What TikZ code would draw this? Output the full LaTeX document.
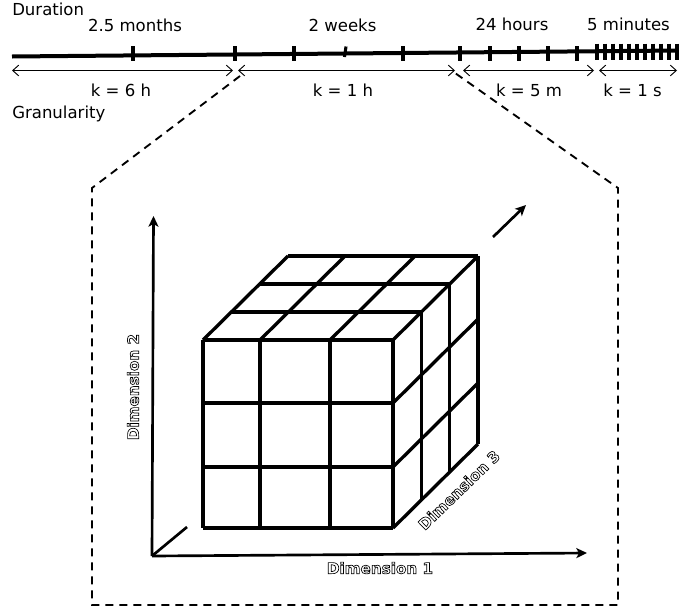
\documentclass[tikz,border=0pt]{standalone}
\usepackage{fontspec}
\setmainfont{DejaVu Sans}
\usetikzlibrary{arrows.meta}

\tikzset{
  lbl/.style={inner sep=0pt, anchor=base, font=\fontsize{12.4}{14}\selectfont},
  axlbl/.style={inner sep=0pt, anchor=center, font=\fontsize{11.4}{14}\selectfont\bfseries},
  timeline/.style={line width=3pt},
  tick/.style={line width=2.3pt},
  span/.style={line width=0.7pt, {Straight Barb[length=4.5pt,width=8pt,line width=0.7pt]}-{Straight Barb[length=4.5pt,width=8pt,line width=0.7pt]}},
  zoomframe/.style={line width=1.4pt, dash pattern=on 6pt off 4.5pt},
  grid/.style={line width=2.5pt},
  axis/.style={line width=2pt},
  axarrow/.style={axis, -{Stealth[length=8pt,width=7.5pt,inset=2pt]}},
}

% hollow (stroked only) lettering for the axis names
\newcommand{\outlined}[1]{\special{pdf:literal direct 1 Tr 0.5 w}#1\special{pdf:literal direct 0 Tr}}

\begin{document}
\begin{tikzpicture}[x=0.75pt,y=-0.75pt]
\useasboundingbox (0,0) rectangle (688,611);

% ---- time line with its ticks ----
\coordinate (tl0) at (12,56.5);
\coordinate (tl1) at (678,50.5);
\draw[timeline] (tl0) -- (tl1);
\foreach \x in {133,235,294,403,460,490,519,548,577}
  \draw[tick] (\x,46) -- (\x,61);
\draw[tick] (346,46.5) -- (344.5,57);
\foreach \i in {0,...,10}
  \draw[tick] ({597+8*\i},43.5) -- ({597+8*\i},60);

% ---- duration labels ----
\node[lbl, anchor=base west] (dur) at (12,15) {Duration};
\node[lbl] (d1) at (135,31.5) {2.5 months};
\node[lbl] (d2) at (342.5,31.5) {2 weeks};
\node[lbl] (d3) at (512,30) {24 hours};
\node[lbl] (d4) at (628.5,30) {5 minutes};

% ---- granularity spans ----
\coordinate (s0a) at (12,70.5);   \coordinate (s0b) at (233,70.5);
\coordinate (s1a) at (238,70.5);  \coordinate (s1b) at (455,70.5);
\coordinate (s2a) at (463,70.5);  \coordinate (s2b) at (594,70.5);
\coordinate (s3a) at (599,70.5);  \coordinate (s3b) at (677,70.5);
\draw[span] (s0a) -- (s0b);
\draw[span] (s1a) -- (s1b);
\draw[span] (s2a) -- (s2b);
\draw[span] (s3a) -- (s3b);

\node[lbl] (g1) at (121,96.5) {k = 6 h};
\node[lbl] (g2) at (343,96.5) {k = 1 h};
\node[lbl] (g3) at (529,96.5) {k = 5 m};
\node[lbl] (g4) at (632.5,96.5) {k = 1 s};
\node[lbl, anchor=base west] (gran) at (12,118) {Granularity};

% ---- dashed zoom frame ----
\coordinate (f0) at (240,76);
\coordinate (f1) at (92,188);
\coordinate (f2) at (92,605);
\coordinate (f3) at (618,605);
\coordinate (f4) at (618,188);
\coordinate (f5) at (455,73);
\draw[zoomframe] (f0) -- (f1) -- (f2) -- (f3) -- (f4) -- (f5);

% ---- axes ----
\coordinate (O) at (152,556);
\coordinate (ax1) at (587,553);
\coordinate (ax2) at (153.5,216);
\coordinate (ax3) at (187,527);
\draw[axarrow] (O) -- (ax1);
\draw[axarrow] (O) -- (ax2);
\draw[axis] (O) -- (ax3);
\coordinate (dirA) at (493,237);
\coordinate (dirB) at (526,205);
\draw[axarrow] (dirA) -- (dirB);

\node[axlbl] (dim1) at (380,568) {\outlined{Dimension 1}};
\node[axlbl, rotate=90] (dim2) at (133,387) {\outlined{Dimension 2}};
\node[axlbl, rotate=44] (dim3) at (459,490) {\outlined{Dimension 3}};

% ---- 3x3x3 cube ----
% front face
\foreach \x in {203,260,330,393}
  \draw[grid] (\x,340) -- (\x,528);
\foreach \y in {340,403,467,528}
  \draw[grid] (203,\y) -- (393,\y);
% top face
\foreach \k in {0,1,2,3}
  \draw[grid] ({203+28.33*\k},{340-28*\k}) -- ({393+28.33*\k},{340-28*\k});
\foreach \x in {203,260,330,393}
  \draw[grid] (\x,340) -- ({\x+85},256);
% right face
\foreach \k in {1,2,3}
  \draw[grid] ({393+28.33*\k},{340-28*\k}) -- ({393+28.33*\k},{528-28*\k});
\foreach \y in {403,467,528}
  \draw[grid] (393,\y) -- (478,{\y-84});
\end{tikzpicture}
\end{document}
